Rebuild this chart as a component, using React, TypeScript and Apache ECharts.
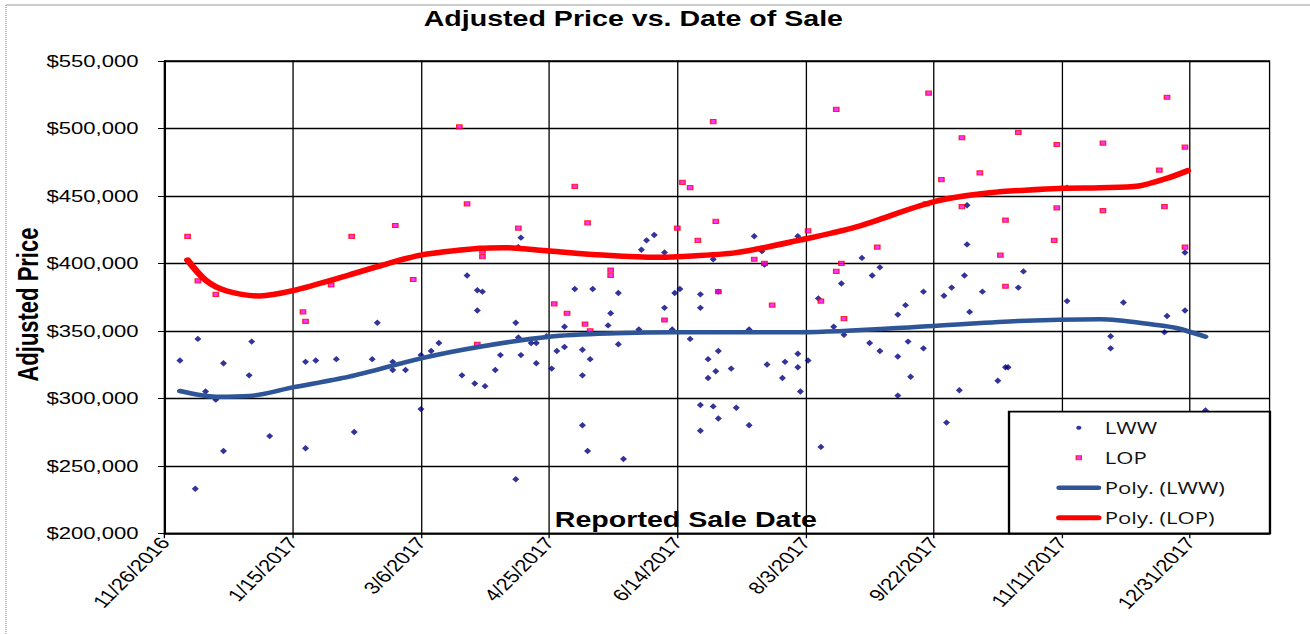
import React, { useEffect, useRef } from 'react';
import * as echarts from 'echarts';

// Dates are Excel date serials (days since 1899-12-30); 42700 = 11/26/2016
const lwwDates = [
  42706, 42712, 42713, 42716, 42720, 42723, 42723, 42733, 42734, 42741,
  42755, 42755, 42759, 42767, 42774, 42781, 42783, 42789, 42789, 42794,
  42800, 42800, 42804, 42807, 42816, 42818, 42821, 42822, 42824, 42822,
  42825, 42829, 42831, 42837, 42837, 42838, 42839, 42838, 42839, 42843,
  42845, 42845, 42849, 42851, 42853, 42856, 42856, 42863, 42863, 42863,
  42865, 42866, 42860, 42867, 42873, 42874, 42877, 42877, 42879, 42885,
  42886, 42888, 42891, 42895, 42895, 42898, 42899, 42901, 42905, 42909,
  42909, 42909, 42909, 42912, 42912, 42914, 42914, 42915, 42916, 42916,
  42916, 42921, 42923, 42928, 42928, 42930, 42933, 42934, 42935, 42941,
  42942, 42947, 42947, 42947, 42948, 42951, 42956, 42961, 42965, 42975,
  42979, 42986, 42986, 42986, 42989, 42990, 42991, 42996, 42996, 43004,
  43005, 43007, 43010, 43012, 43013, 43013, 43014, 43019, 43025, 43028,
  43029, 43033, 43035, 43052, 43052, 43069, 43069, 43074, 43090, 43091,
  43098, 43098, 43106, 42955, 42972, 42976, 42979, 42964
];
const lwwPrices = [
  328000, 233000, 344000, 305000, 299000, 326000, 261000, 317000, 342000, 272000,
  327000, 263000, 328000, 329000, 275000, 329000, 356000, 327000, 321000, 321000,
  332000, 292000, 335000, 341000, 317000, 391000, 311000, 380000, 379000, 365000,
  309000, 321000, 332000, 356000, 240000, 412000, 419000, 345000, 332000, 341000,
  341000, 326000, 346000, 322000, 335000, 353000, 338000, 336000, 317000, 280000,
  261000, 329000, 381000, 381000, 354000, 363000, 378000, 340000, 255000, 351000,
  410000, 417000, 421000, 408000, 367000, 351000, 378000, 381000, 344000, 377000,
  367000, 295000, 276000, 329000, 315000, 403000, 294000, 320000, 335000, 379000,
  285000, 322000, 293000, 351000, 280000, 420000, 409000, 399000, 325000, 315000,
  327000, 333000, 323000, 420000, 305000, 328000, 264000, 353000, 347000, 341000,
  335000, 362000, 331000, 302000, 369000, 342000, 316000, 379000, 337000, 376000,
  282000, 382000, 306000, 391000, 443000, 414000, 364000, 379000, 313000, 323000,
  323000, 382000, 394000, 456000, 372000, 346000, 337000, 371000, 349000, 361000,
  408000, 365000, 291000, 374000, 404000, 391000, 397000, 385000
];

const lopDates = [
  42709, 42713, 42720, 42754, 42755, 42765, 42773, 42790, 42797, 42815,
  42818, 42822, 42824, 42824, 42838, 42852, 42857, 42860, 42864, 42865,
  42866, 42874, 42874, 42895, 42900, 42902, 42905, 42908, 42914, 42915,
  42916, 42930, 42934, 42937, 42951, 42956, 42962, 42962, 42964, 42965,
  42978, 42997, 42998, 43003, 43011, 43011, 43018, 43026, 43028, 43028,
  43033, 43047, 43048, 43048, 43066, 43066, 43088, 43090, 43091, 43098,
  43098
];
const lopPrices = [
  420000, 387000, 377000, 364000, 357000, 384000, 420000, 428000, 388000, 501000,
  444000, 340000, 409000, 405000, 426000, 370000, 363000, 457000, 355000, 430000,
  350000, 395000, 391000, 358000, 426000, 460000, 456000, 417000, 505000, 431000,
  379000, 403000, 400000, 369000, 424000, 372000, 514000, 394000, 400000, 359000,
  412000, 444000, 526000, 462000, 493000, 442000, 467000, 406000, 432000, 383000,
  497000, 417000, 488000, 441000, 489000, 439000, 469000, 442000, 523000, 486000,
  412000
];

// Polynomial trendlines as drawn in the reference
const lwwTrendDates = [42706, 42720, 42733, 42750, 42772, 42800, 42823, 42850, 42876, 42900, 42948, 43000, 43033, 43065, 43087, 43095, 43106];
const lwwTrendPrices = [305400, 301200, 301700, 308100, 316000, 329600, 338200, 345600, 348100, 348900, 348900, 353600, 357300, 358500, 354300, 351900, 345600];
const lopTrendDates = [42709, 42716, 42724, 42737, 42750, 42772, 42785, 42800, 42823, 42832, 42850, 42871, 42892, 42900, 42923, 42948, 42970, 43000, 43022, 43050, 43065, 43080, 43091, 43099];
const lopTrendPrices = [402400, 387600, 379700, 375800, 379700, 391300, 398700, 406100, 411100, 411600, 409100, 406100, 404400, 404900, 407900, 417300, 427100, 445600, 452300, 455600, 456000, 457300, 463000, 468600];

const xTickValues = [42700, 42750, 42800, 42850, 42900, 42950, 43000, 43050, 43100];
const X_MIN = 42700;
const X_MAX = 43131;
const X_STEP = 50;
const Y_MIN = 200000;
const Y_MAX = 550000;
const Y_STEP = 50000;

const W = 1008;
const H = 634;
const SX = 1310 / W;

function serialToLabel(v: number): string {
  const d = new Date(Date.UTC(1899, 11, 30) + Math.round(v) * 86400000);
  return `${d.getUTCMonth() + 1}/${d.getUTCDate()}/${d.getUTCFullYear()}`;
}

const zip = (a: number[], b: number[]) => a.map((v, i) => [v, b[i]]);

const FONT = 'Liberation Sans, Arial, sans-serif';

export default function App() {
  const ref = useRef<HTMLDivElement>(null);
  useEffect(() => {
    if (!ref.current) return;
    const chart = echarts.init(ref.current, undefined, { renderer: 'svg', width: W, height: H });
    const gridLeft = 126.6;
    const gridTop = 60.8;
    const gridW = 850.3;
    const gridH = 472.5;
    chart.setOption({
      animation: false,
      backgroundColor: '#fff',
      title: {
        text: 'Adjusted Price vs. Date of Sale',
        left: 326,
        top: 7,
        padding: 0,
        textStyle: { fontFamily: FONT, fontWeight: 'bold', fontSize: 22, color: '#000' },
      },
      grid: {
        left: gridLeft, top: gridTop, width: gridW, height: gridH,
        containLabel: false,
        outerBoundsMode: 'none',
        show: true, borderColor: '#000', borderWidth: 1, backgroundColor: '#fff',
      },
      xAxis: {
        type: 'value',
        min: X_MIN, max: X_MAX, interval: X_STEP,
        name: 'Reported Sale Date',
        nameLocation: 'middle',
        nameGap: -25,
        nameMoveOverlap: false,
        nameTextStyle: { fontFamily: FONT, fontWeight: 'bold', fontSize: 22, color: '#000', padding: [0, 48, 0, 0] },
        axisLine: { show: true, onZero: false, lineStyle: { color: '#000', width: 1.5 } },
        axisTick: { show: true, length: 5, customValues: xTickValues, lineStyle: { color: '#000', width: 1 } },
        axisLabel: {
          rotate: 52, margin: 6, fontFamily: FONT, fontSize: 17, color: '#000',
          customValues: xTickValues,
          hideOverlap: false,
          formatter: (v: number) => serialToLabel(v),
        },
        splitLine: { show: true, lineStyle: { color: '#000', width: 1 } },
      },
      yAxis: {
        type: 'value',
        min: Y_MIN, max: Y_MAX, interval: Y_STEP,
        name: 'Adjusted Price',
        nameLocation: 'middle',
        nameRotate: 90,
        nameGap: 94,
        nameMoveOverlap: false,
        nameTextStyle: { fontFamily: FONT, fontWeight: 'bold', fontSize: 22, color: '#000', padding: [0, 15, 0, 0] },
        axisLine: { show: true, lineStyle: { color: '#000', width: 1.5 } },
        axisTick: { show: true, length: 5, lineStyle: { color: '#000', width: 1 } },
        axisLabel: {
          margin: 20, fontFamily: FONT, fontSize: 17, color: '#000',
          formatter: (v: number) => '$' + v.toLocaleString('en-US'),
        },
        splitLine: { show: true, lineStyle: { color: '#000', width: 1.3 } },
      },
      legend: {
        orient: 'vertical',
        left: 812.6,
        top: 419.2,
        padding: 0,
        itemWidth: 30,
        itemHeight: 4,
        itemGap: 13,
        z: 10,
        textStyle: { fontFamily: 'Open Sans, sans-serif', fontSize: 17, color: '#111' },
        data: [
          { name: 'LWW', icon: 'circle' },
          { name: 'LOP', icon: 'path://M0,0H10V10H0Z', itemStyle: { borderWidth: 1 } },
          { name: 'Poly. (LWW)', lineStyle: { width: 4.5 } },
          { name: 'Poly. (LOP)', lineStyle: { width: 5 } },
        ],
      },
      graphic: [
        { type: 'line', z: 1, shape: { x1: 4.6, y1: 5, x2: W, y2: 5 }, style: { stroke: '#999', lineWidth: 1 } },
        { type: 'line', z: 1, shape: { x1: 4.6, y1: 5, x2: 4.6, y2: H }, style: { stroke: '#999', lineWidth: 1, lineDash: [1, 1] } },
        {
          type: 'rect', z: 8,
          shape: { x: 776.4, y: 411.7, width: 200.8, height: 121.6 },
          style: { fill: '#fff', stroke: '#000', lineWidth: 1.8 },
        },
      ],
      series: [
        {
          name: 'LWW', type: 'scatter', symbol: 'diamond', symbolSize: [5.4, 6.4],
          itemStyle: { color: '#000080' },
          data: zip(lwwDates, lwwPrices),
        },
        {
          name: 'LOP', type: 'scatter', symbol: 'rect', symbolSize: [4.2, 4.2],
          itemStyle: { color: '#ff00ff', borderColor: '#ff0000', borderWidth: 1 },
          data: zip(lopDates, lopPrices),
        },
        {
          name: 'Poly. (LWW)', type: 'line', smooth: 0.3, symbol: 'none',
          itemStyle: { color: '#2E5597' },
          lineStyle: { color: '#2E5597', width: 4.5, cap: 'round' },
          data: zip(lwwTrendDates, lwwTrendPrices),
        },
        {
          name: 'Poly. (LOP)', type: 'line', smooth: 0.3, symbol: 'none',
          itemStyle: { color: '#ff0000' },
          lineStyle: { color: '#ff0000', width: 5.5, cap: 'round' },
          data: zip(lopTrendDates, lopTrendPrices),
        },
      ],
    });
    return () => chart.dispose();
  }, []);
  return (
    <div style={{ position: 'absolute', left: 0, top: 0, width: 1310, height: 634, overflow: 'hidden', background: '#fff' }}>
      <div ref={ref} style={{ width: W, height: H, transform: `scaleX(${SX})`, transformOrigin: '0 0' }} />
    </div>
  );
}
